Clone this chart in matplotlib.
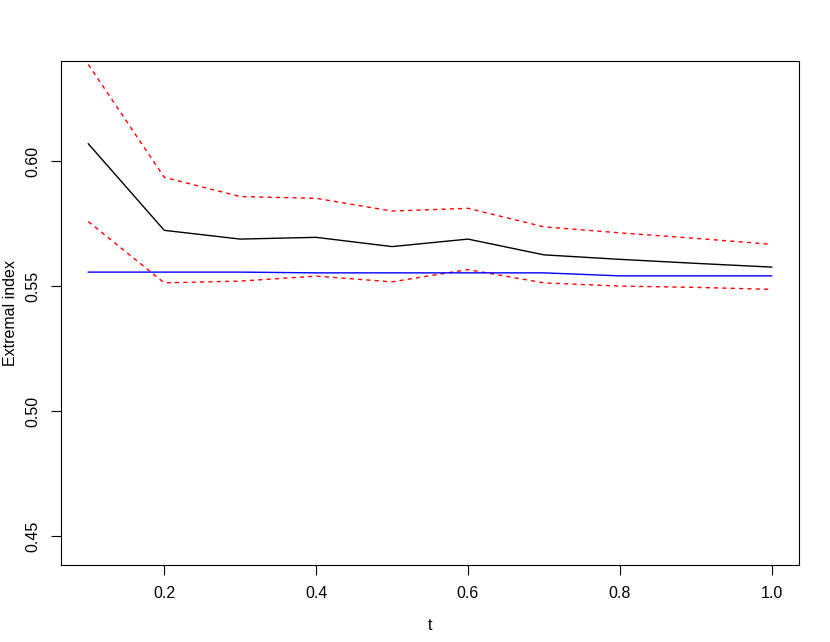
import matplotlib
matplotlib.use("Agg")
import matplotlib.pyplot as plt

t = [0.1, 0.2, 0.3, 0.4, 0.5, 0.6, 0.7, 0.8, 0.9, 1.0]
estimate = [0.6069, 0.5723, 0.5688, 0.5695, 0.5658, 0.5688, 0.5625, 0.5607, 0.5591, 0.5576]
upper = [0.6386, 0.5935, 0.5858, 0.5851, 0.5800, 0.5811, 0.5737, 0.5713, 0.5691, 0.5667]
lower = [0.5758, 0.5513, 0.5520, 0.5540, 0.5517, 0.5566, 0.5513, 0.5500, 0.5495, 0.5487]
reference = [0.5556, 0.5556, 0.5556, 0.5553, 0.5553, 0.5553, 0.5553, 0.5541, 0.5541, 0.5541]

xticks = [0.2, 0.4, 0.6, 0.8, 1.0]
xticklabels = ["0.2", "0.4", "0.6", "0.8", "1.0"]
yticks = [0.45, 0.50, 0.55, 0.60]
yticklabels = ["0.45", "0.50", "0.55", "0.60"]

plt.rcParams['font.family'] = ['Liberation Sans', 'DejaVu Sans']

fig = plt.figure(figsize=(8.3, 6.42), dpi=100)
ax = fig.add_axes([61/830, (642-565)/642, (799-61)/830, (565-61)/642])

ax.plot(t, estimate, color='black', lw=1.0)
ax.plot(t, upper, color='red', lw=1.0, dashes=(3, 3))
ax.plot(t, lower, color='red', lw=1.0, dashes=(3, 3))
ax.plot(t, reference, color='blue', lw=1.0)

ax.set_xlim(0.064, 1.036)
ax.set_ylim(0.4385, 0.6400)

ax.set_xticks(xticks)
ax.set_xticklabels(xticklabels)
ax.set_yticks(yticks)
ax.set_yticklabels(yticklabels, rotation=90, va='center')

ax.tick_params(axis='both', direction='out', length=7, width=0.8, labelsize=11.5, pad=8)
for s in ax.spines.values():
    s.set_linewidth(0.8)

ax.set_xlabel("t", fontsize=11.5)
ax.set_ylabel("Extremal index", fontsize=11.5, va='center')
ax.xaxis.set_label_coords((430-61)/738, -(618-565)/504)
ax.yaxis.set_label_coords((10-61)/738, 0.5)

fig.savefig("out.png", dpi=100)
